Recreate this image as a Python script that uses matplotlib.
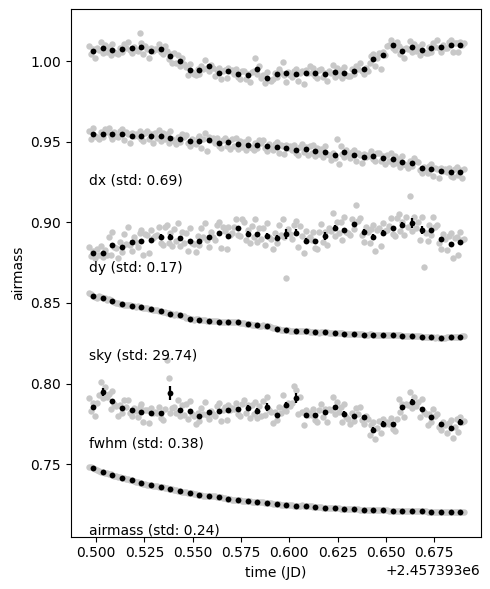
import matplotlib
matplotlib.use("Agg")
import matplotlib.pyplot as plt
import numpy as np

# Stacked diagnostics: relative flux on top, then the auxiliary
# quantities shifted down one below the other.
# raw frames are taken every `cadence` days, 5 frames per bin
t_start = 2457393.4965
cadence = 0.001
per_bin = 5

aux_names = ["dx", "dy", "sky", "fwhm", "airmass"]
aux_stds = [0.69, 0.17, 29.74, 0.38, 0.24]

flux_raw = [
    [1.0092, 1.0042, 1.0072, 1.0022, 1.0082], [1.0069, 1.0119, 1.0049, 1.0099, 1.0059],
    [1.0088, 1.0038, 1.0108, 1.0058, 1.0048], [1.0044, 1.0084, 1.0054, 1.0104, 1.0084],
    [1.0119, 1.0069, 1.0049, 1.0089, 1.0069], [1.0065, 1.0172, 1.0115, 1.0045, 1.0095],
    [1.0072, 1.0022, 1.0082, 1.0062, 1.0072], [1.0074, 1.0104, 1.0054, 1.0044, 1.0094],
    [1.0061, 1.0011, 1.0041, 0.9991, 1.0051], [0.9990, 1.0040, 0.9970, 1.0020, 0.9980],
    [0.9962, 0.9912, 0.9982, 0.9932, 0.9922], [0.9912, 0.9952, 0.9922, 0.9972, 0.9952],
    [1.0007, 0.9957, 0.9937, 0.9977, 0.9957], [0.9906, 0.9946, 0.9956, 0.9886, 0.9936],
    [0.9946, 0.9896, 0.9956, 0.9936, 0.9946], [0.9919, 0.9949, 0.9899, 0.9889, 0.9939],
    [0.9941, 0.9891, 0.9921, 0.9871, 0.9931], [0.9938, 1.0020, 0.9918, 0.9968, 0.9898],
    [0.9915, 0.9865, 0.9935, 0.9885, 0.9875], [0.9889, 0.9929, 0.9899, 0.9949, 0.9929],
    [0.9995, 0.9914, 0.9870, 0.9934, 0.9914], [0.9899, 0.9939, 0.9949, 0.9879, 0.9929],
    [0.9936, 0.9855, 0.9946, 0.9926, 0.9967], [0.9926, 0.9956, 0.9906, 0.9896, 0.9946],
    [0.9949, 0.9899, 0.9929, 0.9879, 0.9939], [0.9924, 0.9974, 0.9904, 0.9954, 0.9914],
    [0.9946, 0.9896, 0.9966, 0.9916, 0.9906], [0.9908, 0.9948, 0.9918, 0.9968, 0.9948],
    [0.9988, 0.9938, 0.9918, 0.9958, 0.9938], [0.9991, 1.0031, 1.0041, 0.9971, 1.0021],
    [1.0047, 0.9950, 1.0057, 1.0037, 1.0094], [1.0099, 1.0129, 1.0079, 1.0069, 1.0119],
    [1.0092, 1.0042, 1.0072, 1.0022, 1.0082], [1.0075, 1.0125, 1.0055, 1.0105, 1.0065],
    [1.0088, 1.0038, 1.0108, 1.0058, 1.0048], [1.0049, 1.0089, 1.0059, 1.0109, 1.0089],
    [1.0129, 1.0079, 1.0059, 1.0099, 1.0079], [1.0079, 1.0119, 1.0129, 1.0059, 1.0109],
    [1.0109, 1.0059, 1.0119, 1.0099, 1.0109],
]
flux_bin = [1.0062, 1.0079, 1.0068, 1.0074, 1.0079, 1.0085, 1.0062, 1.0074, 1.0031, 1.0000,
            0.9942, 0.9942, 0.9967, 0.9926, 0.9936, 0.9919, 0.9911, 0.9948, 0.9895, 0.9919,
            0.9924, 0.9919, 0.9926, 0.9926, 0.9919, 0.9934, 0.9926, 0.9938, 0.9948, 1.0011,
            1.0037, 1.0099, 1.0062, 1.0085, 1.0068, 1.0079, 1.0089, 1.0099, 1.0099]
flux_err = 0.0012

dx_raw = [
    [0.9568, 0.9518, 0.9588, 0.9538, 0.9528], [0.9518, 0.9558, 0.9528, 0.9578, 0.9558],
    [0.9588, 0.9538, 0.9518, 0.9558, 0.9538], [0.9528, 0.9568, 0.9578, 0.9508, 0.9558],
    [0.9545, 0.9495, 0.9555, 0.9535, 0.9545], [0.9535, 0.9565, 0.9515, 0.9505, 0.9555],
    [0.9565, 0.9515, 0.9545, 0.9495, 0.9555], [0.9525, 0.9575, 0.9505, 0.9555, 0.9515],
    [0.9545, 0.9495, 0.9565, 0.9515, 0.9505], [0.9487, 0.9527, 0.9497, 0.9547, 0.9527],
    [0.9544, 0.9494, 0.9474, 0.9514, 0.9494], [0.9484, 0.9524, 0.9534, 0.9464, 0.9514],
    [0.9554, 0.9440, 0.9532, 0.9512, 0.9522], [0.9492, 0.9522, 0.9472, 0.9462, 0.9512],
    [0.9526, 0.9476, 0.9506, 0.9456, 0.9516], [0.9476, 0.9526, 0.9456, 0.9506, 0.9466],
    [0.9498, 0.9448, 0.9518, 0.9468, 0.9458], [0.9450, 0.9490, 0.9460, 0.9510, 0.9490],
    [0.9513, 0.9463, 0.9443, 0.9483, 0.9463], [0.9447, 0.9487, 0.9497, 0.9427, 0.9477],
    [0.9471, 0.9421, 0.9481, 0.9461, 0.9471], [0.9447, 0.9477, 0.9427, 0.9417, 0.9467],
    [0.9485, 0.9435, 0.9465, 0.9415, 0.9475], [0.9432, 0.9482, 0.9412, 0.9462, 0.9422],
    [0.9456, 0.9406, 0.9476, 0.9426, 0.9416], [0.9388, 0.9428, 0.9398, 0.9515, 0.9361],
    [0.9476, 0.9426, 0.9406, 0.9446, 0.9426], [0.9398, 0.9438, 0.9448, 0.9378, 0.9428],
    [0.9415, 0.9365, 0.9425, 0.9405, 0.9415], [0.9413, 0.9443, 0.9393, 0.9383, 0.9433],
    [0.9429, 0.9379, 0.9409, 0.9359, 0.9419], [0.9381, 0.9431, 0.9361, 0.9411, 0.9371],
    [0.9394, 0.9344, 0.9414, 0.9364, 0.9354], [0.9338, 0.9378, 0.9348, 0.9398, 0.9378],
    [0.9375, 0.9325, 0.9305, 0.9345, 0.9325], [0.9309, 0.9349, 0.9359, 0.9289, 0.9339],
    [0.9328, 0.9278, 0.9338, 0.9318, 0.9328], [0.9310, 0.9340, 0.9290, 0.9280, 0.9330],
    [0.9342, 0.9292, 0.9322, 0.9272, 0.9332],
]
dx_bin = [0.9548, 0.9548, 0.9548, 0.9548, 0.9535, 0.9535, 0.9535, 0.9535, 0.9525, 0.9517,
          0.9504, 0.9504, 0.9512, 0.9492, 0.9496, 0.9486, 0.9478, 0.9480, 0.9473, 0.9467,
          0.9461, 0.9447, 0.9455, 0.9442, 0.9436, 0.9418, 0.9436, 0.9418, 0.9405, 0.9413,
          0.9399, 0.9391, 0.9374, 0.9368, 0.9335, 0.9329, 0.9318, 0.9310, 0.9312]
dx_err = 0.0011

dy_raw = [
    [0.8845, 0.8790, 0.8820, 0.8780, 0.8835], [0.8800, 0.8855, 0.8785, 0.8830, 0.8795],
    [0.8910, 0.8800, 0.8940, 0.8850, 0.8840], [0.8776, 0.8876, 0.8816, 0.8926, 0.8866],
    [0.8970, 0.8860, 0.8820, 0.8910, 0.8880], [0.8845, 0.8935, 0.8955, 0.8795, 0.8925],
    [0.8923, 0.8813, 0.8953, 0.8903, 0.8913], [0.8919, 0.8969, 0.8869, 0.8859, 0.8969],
    [0.8981, 0.8871, 0.8931, 0.8851, 0.8961], [0.8883, 0.8993, 0.8853, 0.8943, 0.8873],
    [0.8935, 0.8825, 0.8965, 0.8875, 0.8865], [0.8817, 0.8917, 0.8857, 0.8967, 0.8907],
    [0.8999, 0.8889, 0.8849, 0.8939, 0.8909], [0.8892, 0.8982, 0.9002, 0.8842, 0.8972],
    [0.8944, 0.8834, 0.8974, 0.8924, 0.8934], [0.8973, 0.9023, 0.8923, 0.8913, 0.9023],
    [0.9000, 0.8890, 0.8950, 0.8870, 0.8980], [0.8908, 0.9018, 0.8878, 0.8968, 0.8898],
    [0.8968, 0.8858, 0.8998, 0.8908, 0.8898], [0.8833, 0.8933, 0.8873, 0.8983, 0.8923],
    [0.9018, 0.8908, 0.8656, 0.8958, 0.8928], [0.8896, 0.8986, 0.9006, 0.8846, 0.8976],
    [0.8917, 0.8807, 0.8947, 0.8897, 0.8907], [0.8893, 0.8943, 0.8843, 0.8833, 0.8943],
    [0.8988, 0.8878, 0.8938, 0.8858, 0.8968], [0.8945, 0.9055, 0.8915, 0.9005, 0.8935],
    [0.9003, 0.8893, 0.9033, 0.8943, 0.8933], [0.8920, 0.9020, 0.8960, 0.9108, 0.9010],
    [0.9030, 0.8920, 0.8880, 0.8970, 0.8940], [0.8871, 0.8961, 0.8981, 0.8821, 0.8951],
    [0.8964, 0.8854, 0.8994, 0.8944, 0.8954], [0.8975, 0.9025, 0.8925, 0.8915, 0.9025],
    [0.9054, 0.8944, 0.9004, 0.8924, 0.9034], [0.8974, 0.9164, 0.8944, 0.9034, 0.8964],
    [0.9003, 0.8893, 0.9033, 0.8722, 0.8933], [0.8883, 0.8983, 0.8923, 0.9033, 0.8973],
    [0.8985, 0.8875, 0.8835, 0.8925, 0.8895], [0.8826, 0.8916, 0.8936, 0.8776, 0.8906],
    [0.8908, 0.8798, 0.8938, 0.8888, 0.8898],
]
dy_bin = [0.8810, 0.8810, 0.8860, 0.8846, 0.8880, 0.8885, 0.8893, 0.8909, 0.8911, 0.8903,
          0.8885, 0.8887, 0.8909, 0.8932, 0.8914, 0.8963, 0.8930, 0.8928, 0.8918, 0.8903,
          0.8928, 0.8936, 0.8887, 0.8883, 0.8918, 0.8965, 0.8953, 0.8990, 0.8940, 0.8911,
          0.8934, 0.8965, 0.8984, 0.8994, 0.8953, 0.8953, 0.8895, 0.8866, 0.8878]
dy_err = [0.0008, 0.0008, 0.0010, 0.0010, 0.0010, 0.0010, 0.0012, 0.0016, 0.0016, 0.0012,
          0.0012, 0.0012, 0.0014, 0.0017, 0.0012, 0.0012, 0.0014, 0.0015, 0.0014, 0.0016,
          0.0031, 0.0022, 0.0015, 0.0012, 0.0025, 0.0018, 0.0015, 0.0015, 0.0021, 0.0018,
          0.0021, 0.0015, 0.0018, 0.0031, 0.0025, 0.0015, 0.0012, 0.0012, 0.0014]

sky_raw = [
    [0.8562, 0.8553, 0.8545, 0.8536, 0.8528], [0.8545, 0.8540, 0.8534, 0.8528, 0.8521],
    [0.8523, 0.8518, 0.8513, 0.8508, 0.8503], [0.8500, 0.8496, 0.8493, 0.8490, 0.8486],
    [0.8487, 0.8485, 0.8482, 0.8479, 0.8477], [0.8479, 0.8476, 0.8474, 0.8472, 0.8469],
    [0.8467, 0.8464, 0.8461, 0.8458, 0.8455], [0.8455, 0.8452, 0.8449, 0.8446, 0.8443],
    [0.8440, 0.8437, 0.8434, 0.8431, 0.8428], [0.8430, 0.8427, 0.8424, 0.8420, 0.8417],
    [0.8410, 0.8406, 0.8403, 0.8400, 0.8396], [0.8400, 0.8399, 0.8397, 0.8395, 0.8394],
    [0.8392, 0.8390, 0.8389, 0.8388, 0.8386], [0.8387, 0.8386, 0.8385, 0.8384, 0.8383],
    [0.8384, 0.8384, 0.8383, 0.8382, 0.8382], [0.8384, 0.8383, 0.8381, 0.8379, 0.8378],
    [0.8373, 0.8371, 0.8369, 0.8367, 0.8365], [0.8365, 0.8364, 0.8362, 0.8360, 0.8359],
    [0.8362, 0.8360, 0.8358, 0.8356, 0.8354], [0.8344, 0.8342, 0.8339, 0.8336, 0.8334],
    [0.8334, 0.8332, 0.8331, 0.8330, 0.8328], [0.8329, 0.8328, 0.8327, 0.8326, 0.8325],
    [0.8327, 0.8326, 0.8325, 0.8324, 0.8323], [0.8321, 0.8320, 0.8319, 0.8318, 0.8317],
    [0.8321, 0.8320, 0.8319, 0.8318, 0.8317], [0.8317, 0.8316, 0.8315, 0.8314, 0.8313],
    [0.8312, 0.8311, 0.8310, 0.8309, 0.8308], [0.8310, 0.8309, 0.8308, 0.8307, 0.8306],
    [0.8306, 0.8305, 0.8304, 0.8303, 0.8303], [0.8305, 0.8305, 0.8304, 0.8303, 0.8303],
    [0.8303, 0.8303, 0.8302, 0.8301, 0.8301], [0.8301, 0.8301, 0.8300, 0.8299, 0.8299],
    [0.8300, 0.8299, 0.8298, 0.8297, 0.8297], [0.8297, 0.8296, 0.8295, 0.8294, 0.8293],
    [0.8294, 0.8293, 0.8292, 0.8291, 0.8290], [0.8290, 0.8289, 0.8288, 0.8287, 0.8286],
    [0.8287, 0.8286, 0.8286, 0.8286, 0.8285], [0.8289, 0.8290, 0.8290, 0.8291, 0.8291],
    [0.8291, 0.8292, 0.8292, 0.8293, 0.8293],
]
sky_bin = [0.8544, 0.8534, 0.8513, 0.8493, 0.8482, 0.8474, 0.8461, 0.8449, 0.8434, 0.8424,
           0.8403, 0.8397, 0.8389, 0.8385, 0.8383, 0.8381, 0.8369, 0.8362, 0.8358, 0.8339,
           0.8331, 0.8327, 0.8325, 0.8319, 0.8319, 0.8315, 0.8310, 0.8308, 0.8304, 0.8304,
           0.8302, 0.8300, 0.8298, 0.8295, 0.8292, 0.8288, 0.8286, 0.8290, 0.8292]
sky_err = 0.0001

fwhm_raw = [
    [0.7908, 0.7828, 0.7878, 0.7798, 0.7878], [0.7929, 0.8010, 0.7909, 0.7979, 0.7919],
    [0.7933, 0.7843, 0.7953, 0.7873, 0.7863], [0.7798, 0.7868, 0.7818, 0.7898, 0.7858],
    [0.7898, 0.7818, 0.7798, 0.7848, 0.7828], [0.7795, 0.7855, 0.7875, 0.7765, 0.7835],
    [0.7837, 0.7757, 0.7847, 0.7817, 0.7827], [0.7815, 0.7855, 0.7785, 0.7775, 0.7845],
    [0.8147, 0.8034, 0.7820, 0.7850, 0.7855], [0.7818, 0.7898, 0.7798, 0.7868, 0.7808],
    [0.7871, 0.7781, 0.7891, 0.7811, 0.7801], [0.7750, 0.7820, 0.7770, 0.7850, 0.7810],
    [0.7883, 0.7803, 0.7783, 0.7833, 0.7813], [0.7799, 0.7859, 0.7879, 0.7769, 0.7839],
    [0.7856, 0.7776, 0.7866, 0.7836, 0.7846], [0.7842, 0.7882, 0.7812, 0.7802, 0.7872],
    [0.7898, 0.7818, 0.7868, 0.7788, 0.7868], [0.7809, 0.7889, 0.7789, 0.7859, 0.7799],
    [0.7894, 0.7804, 0.7914, 0.7834, 0.7824], [0.7755, 0.7825, 0.7775, 0.7855, 0.7815],
    [0.7929, 0.7849, 0.7829, 0.7879, 0.7859], [0.7880, 0.7985, 0.7960, 0.7810, 0.7915],
    [0.7825, 0.7745, 0.7835, 0.7805, 0.7815], [0.7805, 0.7845, 0.7775, 0.7765, 0.7835],
    [0.7871, 0.7791, 0.7841, 0.7761, 0.7841], [0.7834, 0.7914, 0.7814, 0.7884, 0.7824],
    [0.7853, 0.7763, 0.7873, 0.7793, 0.7783], [0.7749, 0.7819, 0.7769, 0.7849, 0.7809],
    [0.7852, 0.7772, 0.7752, 0.7802, 0.7782], [0.7684, 0.7744, 0.7764, 0.7654, 0.7724],
    [0.7771, 0.7691, 0.7781, 0.7751, 0.7761], [0.7749, 0.7789, 0.7719, 0.7709, 0.7779],
    [0.7904, 0.7824, 0.7874, 0.7794, 0.7874], [0.7869, 0.7949, 0.7849, 0.7919, 0.7859],
    [0.7884, 0.7794, 0.7904, 0.7824, 0.7814], [0.7742, 0.7812, 0.7762, 0.7842, 0.7802],
    [0.7811, 0.7731, 0.7711, 0.7761, 0.7741], [0.7694, 0.7754, 0.7774, 0.7664, 0.7734],
    [0.7781, 0.7701, 0.7791, 0.7761, 0.7771],
]
fwhm_bin = [0.7858, 0.7949, 0.7893, 0.7848, 0.7838, 0.7825, 0.7817, 0.7815, 0.7941, 0.7838,
            0.7831, 0.7800, 0.7823, 0.7829, 0.7836, 0.7842, 0.7848, 0.7829, 0.7854, 0.7805,
            0.7869, 0.7910, 0.7805, 0.7805, 0.7821, 0.7854, 0.7813, 0.7799, 0.7792, 0.7714,
            0.7751, 0.7749, 0.7854, 0.7889, 0.7844, 0.7792, 0.7751, 0.7724, 0.7761]
fwhm_err = [0.0012, 0.0025, 0.0014, 0.0012, 0.0012, 0.0012, 0.0012, 0.0012, 0.0045, 0.0012,
            0.0012, 0.0012, 0.0012, 0.0012, 0.0012, 0.0012, 0.0018, 0.0020, 0.0025, 0.0012,
            0.0018, 0.0030, 0.0012, 0.0012, 0.0012, 0.0015, 0.0020, 0.0012, 0.0012, 0.0015,
            0.0020, 0.0012, 0.0012, 0.0015, 0.0012, 0.0012, 0.0012, 0.0012, 0.0020]

air_raw = [
    [0.7486, 0.7481, 0.7476, 0.7471, 0.7467], [0.7460, 0.7455, 0.7451, 0.7447, 0.7443],
    [0.7440, 0.7437, 0.7433, 0.7430, 0.7426], [0.7423, 0.7419, 0.7416, 0.7413, 0.7410],
    [0.7407, 0.7403, 0.7400, 0.7397, 0.7393], [0.7390, 0.7386, 0.7383, 0.7380, 0.7377],
    [0.7374, 0.7372, 0.7369, 0.7366, 0.7364], [0.7364, 0.7361, 0.7359, 0.7356, 0.7354],
    [0.7351, 0.7349, 0.7346, 0.7344, 0.7341], [0.7339, 0.7336, 0.7334, 0.7331, 0.7329],
    [0.7326, 0.7324, 0.7321, 0.7319, 0.7316], [0.7313, 0.7311, 0.7309, 0.7307, 0.7305],
    [0.7305, 0.7304, 0.7303, 0.7302, 0.7301], [0.7301, 0.7299, 0.7297, 0.7295, 0.7293],
    [0.7288, 0.7286, 0.7284, 0.7282, 0.7280], [0.7281, 0.7280, 0.7278, 0.7277, 0.7275],
    [0.7275, 0.7274, 0.7272, 0.7271, 0.7269], [0.7269, 0.7268, 0.7266, 0.7265, 0.7263],
    [0.7263, 0.7262, 0.7260, 0.7258, 0.7257], [0.7256, 0.7255, 0.7253, 0.7251, 0.7250],
    [0.7250, 0.7249, 0.7247, 0.7246, 0.7245], [0.7245, 0.7244, 0.7243, 0.7242, 0.7242],
    [0.7245, 0.7244, 0.7243, 0.7242, 0.7240], [0.7239, 0.7238, 0.7237, 0.7236, 0.7234],
    [0.7232, 0.7231, 0.7230, 0.7229, 0.7229], [0.7231, 0.7230, 0.7229, 0.7227, 0.7226],
    [0.7224, 0.7223, 0.7222, 0.7222, 0.7221], [0.7224, 0.7223, 0.7222, 0.7221, 0.7220],
    [0.7218, 0.7217, 0.7216, 0.7216, 0.7215], [0.7218, 0.7217, 0.7216, 0.7216, 0.7215],
    [0.7217, 0.7217, 0.7216, 0.7215, 0.7214], [0.7211, 0.7211, 0.7210, 0.7210, 0.7209],
    [0.7211, 0.7211, 0.7210, 0.7210, 0.7209], [0.7211, 0.7211, 0.7210, 0.7210, 0.7209],
    [0.7211, 0.7210, 0.7210, 0.7209, 0.7209], [0.7205, 0.7205, 0.7204, 0.7204, 0.7203],
    [0.7205, 0.7204, 0.7204, 0.7204, 0.7203], [0.7205, 0.7204, 0.7204, 0.7204, 0.7203],
    [0.7205, 0.7204, 0.7204, 0.7204, 0.7201],
]
air_bin = [0.7476, 0.7451, 0.7433, 0.7416, 0.7400, 0.7383, 0.7369, 0.7359, 0.7346, 0.7334,
           0.7321, 0.7309, 0.7303, 0.7297, 0.7284, 0.7278, 0.7272, 0.7266, 0.7260, 0.7253,
           0.7247, 0.7243, 0.7243, 0.7237, 0.7230, 0.7229, 0.7222, 0.7222, 0.7216, 0.7216,
           0.7216, 0.7210, 0.7210, 0.7210, 0.7210, 0.7204, 0.7204, 0.7204, 0.7204]
air_err = 0.0001

# text labels sit just under each curve, one step apart
label_top = 0.9774
label_step = 0.0542


def plot_series(ax, t_raw, t_bin, raw, binned, err):
    ax.plot(t_raw, np.ravel(raw), 'o', color='#c8c8c8', ms=4.6, mew=0, zorder=1)
    ax.errorbar(t_bin, binned, yerr=err, fmt='o', color='k', ms=4.2, mew=0,
                elinewidth=1.6, capsize=0, zorder=2)


def draw_plot():
    fig = plt.figure(figsize=(4.9, 5.89), dpi=100)
    ax = fig.add_axes([0.1443, 0.0891, 0.8367, 0.8951])

    n_frames = len(flux_raw) * per_bin
    t_raw = t_start + cadence * np.arange(n_frames)
    t_bin = t_raw.reshape(-1, per_bin).mean(axis=1)

    series = [
        (flux_raw, flux_bin, flux_err),
        (dx_raw, dx_bin, dx_err),
        (dy_raw, dy_bin, dy_err),
        (sky_raw, sky_bin, sky_err),
        (fwhm_raw, fwhm_bin, fwhm_err),
        (air_raw, air_bin, air_err),
    ]
    for raw, binned, err in series:
        plot_series(ax, t_raw, t_bin, raw, binned, err)

    for i, (name, std) in enumerate(zip(aux_names, aux_stds)):
        ax.text(t_raw[0], label_top - label_step * (i + 1),
                f"{name} (std: {std:.2f})", fontsize=10)

    ax.set_xlim(2457393.4869, 2457393.6990)
    ax.set_ylim(0.7052, 1.0321)
    ax.set_xlabel("time (JD)")
    ax.set_ylabel("airmass")

    fig.savefig("out.png", dpi=100)


draw_plot()
